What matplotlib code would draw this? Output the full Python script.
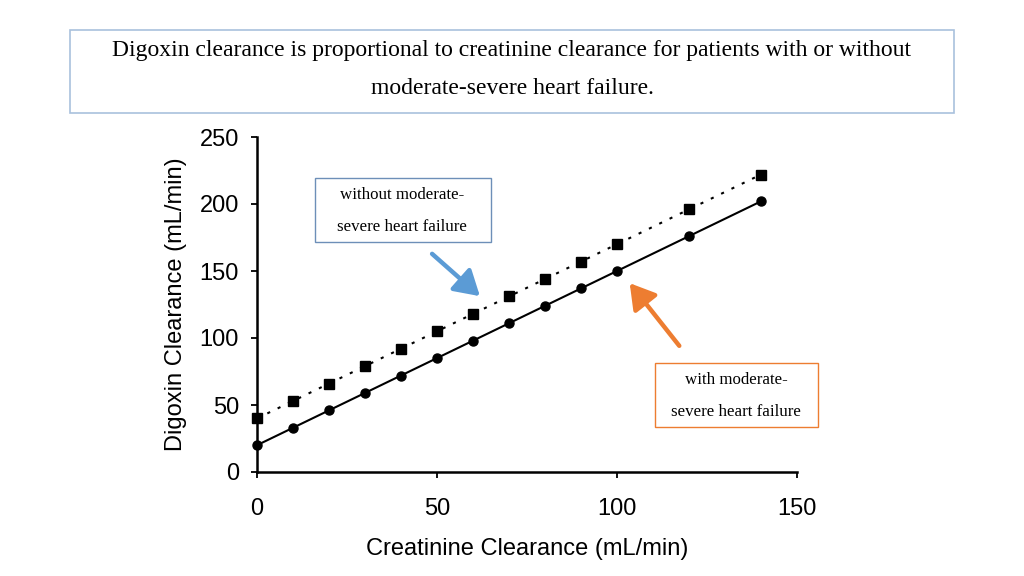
import matplotlib
matplotlib.use("Agg")
import matplotlib.pyplot as plt
from matplotlib.patches import Rectangle, FancyArrowPatch

creatinine = [0, 10, 20, 30, 40, 50, 60, 70, 80, 90, 100, 120, 140]
with_hf = [20, 33, 46, 59, 72, 85, 98, 111, 124, 137, 150, 176, 202]
without_hf = [40, 53, 66, 79, 92, 105, 118, 131, 144, 157, 170, 196, 222]
x_ticks = [0, 50, 100, 150]
y_ticks = [0, 50, 100, 150, 200, 250]

title = "Digoxin clearance is proportional to creatinine clearance for patients with or without\nmoderate-severe heart failure."
label_without = "without moderate-\nsevere heart failure"
label_with = "with moderate-\nsevere heart failure"

W, H = 1024, 576
fig = plt.figure(figsize=(W / 100, H / 100), dpi=100)

def fx(px):
    return px / W

def fy(py):
    return 1 - py / H

ax = fig.add_axes([fx(257), fy(472), (797 - 257) / W, (472 - 137) / H])
ax.plot(creatinine, with_hf, color="black", lw=1.5, marker="o", ms=6.5, clip_on=False)
ax.plot(creatinine, without_hf, color="black", lw=1.5, ls=(0, (1.5, 4)), marker="s", ms=6.5, clip_on=False)
ax.set_xlim(0, 150)
ax.set_ylim(0, 250)
ax.set_xticks(x_ticks)
ax.set_yticks(y_ticks)
for s in ["top", "right"]:
    ax.spines[s].set_visible(False)
for s in ["left", "bottom"]:
    ax.spines[s].set_linewidth(1.8)
ax.tick_params(direction="out", length=4, width=1.3, labelsize=17)
ax.tick_params(axis="x", pad=15)
ax.tick_params(axis="y", pad=9)
for lab in ax.get_xticklabels() + ax.get_yticklabels():
    lab.set_family("Liberation Sans")
ax.set_xlabel("Creatinine Clearance (mL/min)", fontsize=17, family="Liberation Sans", labelpad=13)
ax.set_ylabel("Digoxin Clearance (mL/min)", fontsize=17, family="Liberation Sans", labelpad=9)

# title box
fig.patches.append(Rectangle((fx(70), fy(113)), (954 - 70) / W, (113 - 30) / H,
                             transform=fig.transFigure, facecolor="white",
                             edgecolor="#a9c1dd", lw=1.2))
fig.text(fx(512), fy(69.5), title, ha="center", va="center", fontsize=17,
         family="Liberation Serif", linespacing=2.1)

# annotation boxes
fig.patches.append(Rectangle((fx(315), fy(242)), (491 - 315) / W, (242 - 178) / H,
                             transform=fig.transFigure, facecolor="white",
                             edgecolor="#6d8fb8", lw=1.0))
fig.text(fx(402), fy(211), label_without, ha="center", va="center", fontsize=12.2,
         family="Liberation Serif", linespacing=2.3)
fig.patches.append(Rectangle((fx(655), fy(427)), (818 - 655) / W, (427 - 363) / H,
                             transform=fig.transFigure, facecolor="white",
                             edgecolor="#ed7d31", lw=1.0))
fig.text(fx(736), fy(396), label_with, ha="center", va="center", fontsize=12.2,
         family="Liberation Serif", linespacing=2.3)

# arrows
fig.patches.append(FancyArrowPatch((fx(430), fy(252)), (fx(482), fy(298)),
                                   transform=fig.transFigure, arrowstyle="-|>,head_length=10,head_width=6",
                                   color="#5b9bd5", lw=3.2, mutation_scale=1.5))
fig.patches.append(FancyArrowPatch((fx(681), fy(348)), (fx(628), fy(281)),
                                   transform=fig.transFigure, arrowstyle="-|>,head_length=10,head_width=6",
                                   color="#ed7d31", lw=3.2, mutation_scale=1.5))

fig.savefig("out.png", dpi=100)
